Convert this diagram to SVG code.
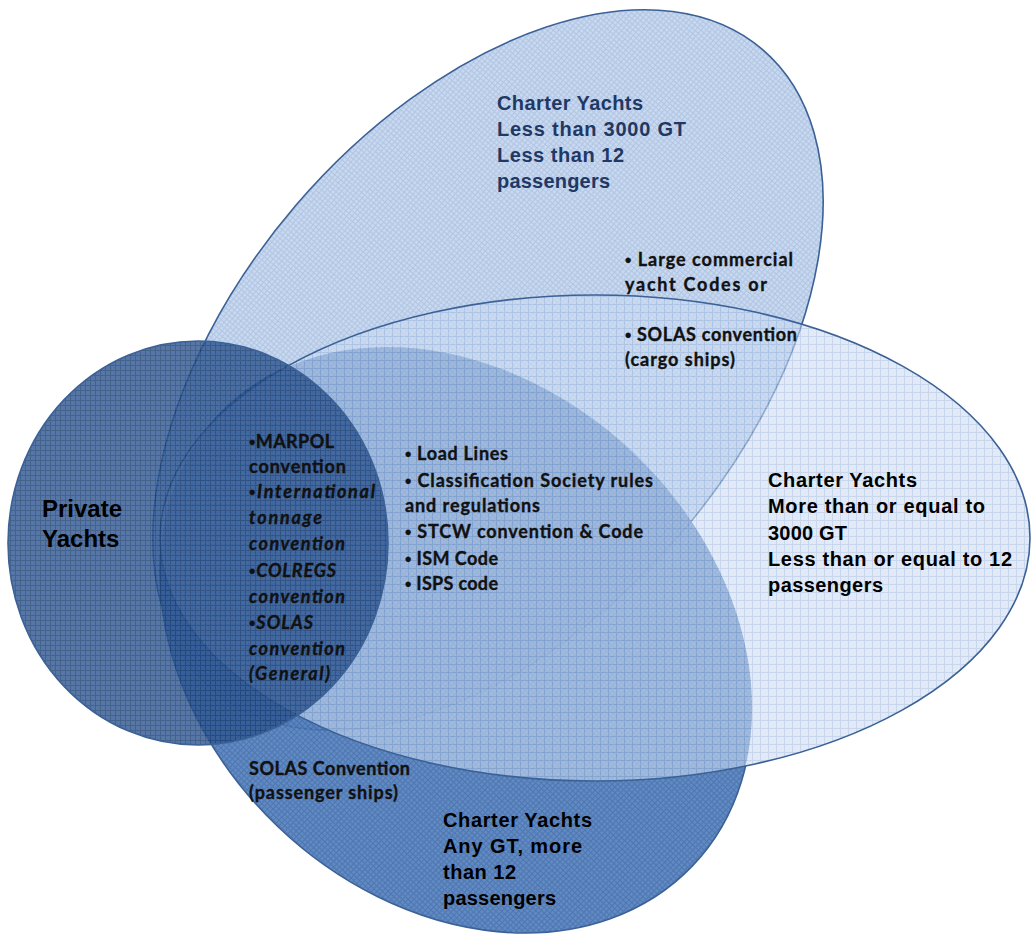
<svg xmlns="http://www.w3.org/2000/svg" width="1031" height="934" viewBox="0 0 1031 934">
  <defs>
    <!-- fine grid fills for each set -->
    <pattern id="gridAny" patternUnits="userSpaceOnUse" width="4" height="4">
      <rect width="4" height="4" fill="#4f7dbd"/>
      <path d="M0 0.5H4M0.5 0V4" stroke="#3c67a6" stroke-width="1"/>
    </pattern>
    <pattern id="gridBig" patternUnits="userSpaceOnUse" width="8" height="8">
      <rect width="8" height="8" fill="#cddcf0"/>
      <path d="M0 0.5H8M0.5 0V8" stroke="#a3bde1" stroke-width="1"/>
    </pattern>
    <pattern id="gridSmall" patternUnits="userSpaceOnUse" width="4" height="4">
      <rect width="4" height="4" fill="#9ab8e2"/>
      <path d="M0 0.5H4M0.5 0V4" stroke="#7196cd" stroke-width="1"/>
    </pattern>
    <pattern id="gridPrivate" patternUnits="userSpaceOnUse" width="5" height="5">
      <rect width="5" height="5" fill="#2f5893"/>
      <path d="M0 0.5H5M0.5 0V5" stroke="#1c3f72" stroke-width="1"/>
    </pattern>
    <!-- the bottom set's rim only shows where the large set does not cover it -->
    <mask id="outsideLarge" maskUnits="userSpaceOnUse" x="0" y="0" width="1031" height="934">
      <rect width="1031" height="934" fill="#fff"/>
      <ellipse cx="595" cy="538" rx="435" ry="243" fill="#000"/>
    </mask>
  </defs>
  <style>
    .set { stroke: #3b6196; stroke-width: 1.6; }
    .rim { fill: none; stroke: #3b6196; stroke-width: 1.6; }
    .arial { font-family: "Liberation Sans", Arial, sans-serif; font-weight: bold; font-size: 20px; fill: #000; }
    .navy { fill: #1f3864; }
    .cal { font-family: Lato, "Open Sans", sans-serif; font-weight: bold; font-size: 18px; fill: #111; stroke: #111; stroke-width: 0.35; }
    .it { font-style: italic; }
    .dot { font-family: "Liberation Sans", Arial, sans-serif; font-style: normal; }
  </style>

  <rect width="1031" height="934" fill="#ffffff"/>

  <!-- Charter yachts, under 3000 GT -->
  <g id="set-small">
    <ellipse class="set" cx="0" cy="0" rx="422" ry="253" transform="translate(488 370) rotate(-49.4)" fill="url(#gridSmall)" fill-opacity="0.55"/>
  </g>

  <!-- Charter yachts, any GT, more than 12 passengers -->
  <g id="set-any-gt">
    <ellipse cx="0" cy="0" rx="327" ry="258" transform="translate(456 640) rotate(43.7)" fill="url(#gridAny)" fill-opacity="0.9"/>
  </g>

  <!-- Charter yachts, 3000 GT and above -->
  <g id="set-large">
    <ellipse class="set" cx="595" cy="538" rx="435" ry="243" fill="url(#gridBig)" fill-opacity="0.6"/>
  </g>

  <!-- visible part of the any-GT rim -->
  <g id="set-any-gt-rim" mask="url(#outsideLarge)">
    <ellipse class="rim" cx="0" cy="0" rx="327" ry="258" transform="translate(456 640) rotate(43.7)"/>
  </g>

  <!-- Private yachts -->
  <g id="set-private">
    <ellipse class="set" cx="198" cy="543" rx="190" ry="202" fill="url(#gridPrivate)" fill-opacity="0.82"/>
  </g>

  <g id="connectors"/>

  <!-- labels -->
  <g id="label-small">
    <text class="arial navy" x="497" y="110" textLength="146">Charter Yachts</text>
    <text class="arial navy" x="497" y="136" textLength="189">Less than 3000 GT</text>
    <text class="arial navy" x="497" y="162" textLength="127">Less than 12</text>
    <text class="arial navy" x="497" y="188" textLength="113">passengers</text>
  </g>

  <g id="label-small-rules">
    <text class="cal" x="625" y="266" textLength="168"><tspan class="dot">•</tspan> Large commercial</text>
    <text class="cal" x="625" y="291" textLength="142">yacht Codes  or</text>
    <text class="cal" x="625" y="341" textLength="172"><tspan class="dot">•</tspan> SOLAS convention</text>
    <text class="cal" x="625" y="366" textLength="110">(cargo ships)</text>
  </g>

  <g id="label-large">
    <text class="arial" x="768" y="487" textLength="149">Charter Yachts</text>
    <text class="arial" x="768" y="513" textLength="217">More than or equal to</text>
    <text class="arial" x="768" y="540" textLength="79">3000 GT</text>
    <text class="arial" x="768" y="566" textLength="244">Less than or equal to 12</text>
    <text class="arial" x="768" y="592" textLength="115">passengers</text>
  </g>

  <g id="label-private">
    <text class="arial" x="42" y="517" style="font-size:24px">Private</text>
    <text class="arial" x="42" y="547" style="font-size:24px">Yachts</text>
  </g>

  <g id="label-common-all">
    <text class="cal" x="249" y="448" textLength="85"><tspan class="dot">•</tspan>MARPOL</text>
    <text class="cal" x="249" y="473" textLength="97">convention</text>
    <text class="cal" x="249" y="498" textLength="126"><tspan class="dot">•</tspan><tspan class="it">International</tspan></text>
    <text class="cal it" x="249" y="524" textLength="73">tonnage</text>
    <text class="cal it" x="249" y="550" textLength="96">convention</text>
    <text class="cal" x="249" y="577" textLength="87"><tspan class="dot">•</tspan><tspan class="it">COLREGS</tspan></text>
    <text class="cal it" x="249" y="603" textLength="96">convention</text>
    <text class="cal" x="249" y="629" textLength="64"><tspan class="dot">•</tspan><tspan class="it">SOLAS</tspan></text>
    <text class="cal it" x="249" y="655" textLength="96">convention</text>
    <text class="cal it" x="249" y="680" textLength="81">(General)</text>
  </g>

  <g id="label-common-charter">
    <text class="cal" x="405" y="460" textLength="103"><tspan class="dot">•</tspan> Load Lines</text>
    <text class="cal" x="405" y="487" textLength="248"><tspan class="dot">•</tspan> Classification  Society rules</text>
    <text class="cal" x="405" y="512" textLength="135">and regulations</text>
    <text class="cal" x="405" y="538" textLength="238"><tspan class="dot">•</tspan> STCW convention &amp; Code</text>
    <text class="cal" x="405" y="565" textLength="93"><tspan class="dot">•</tspan> ISM Code</text>
    <text class="cal" x="405" y="590" textLength="93"><tspan class="dot">•</tspan> ISPS code</text>
  </g>

  <g id="label-any-gt-rules">
    <text class="cal" x="249" y="775" textLength="161">SOLAS Convention</text>
    <text class="cal" x="249" y="799" textLength="149">(passenger ships)</text>
  </g>

  <g id="label-any-gt">
    <text class="arial" x="443" y="827" textLength="149">Charter Yachts</text>
    <text class="arial" x="443" y="853" textLength="139">Any GT, more</text>
    <text class="arial" x="443" y="879" textLength="73">than 12</text>
    <text class="arial" x="443" y="905" textLength="113">passengers</text>
  </g>
</svg>
